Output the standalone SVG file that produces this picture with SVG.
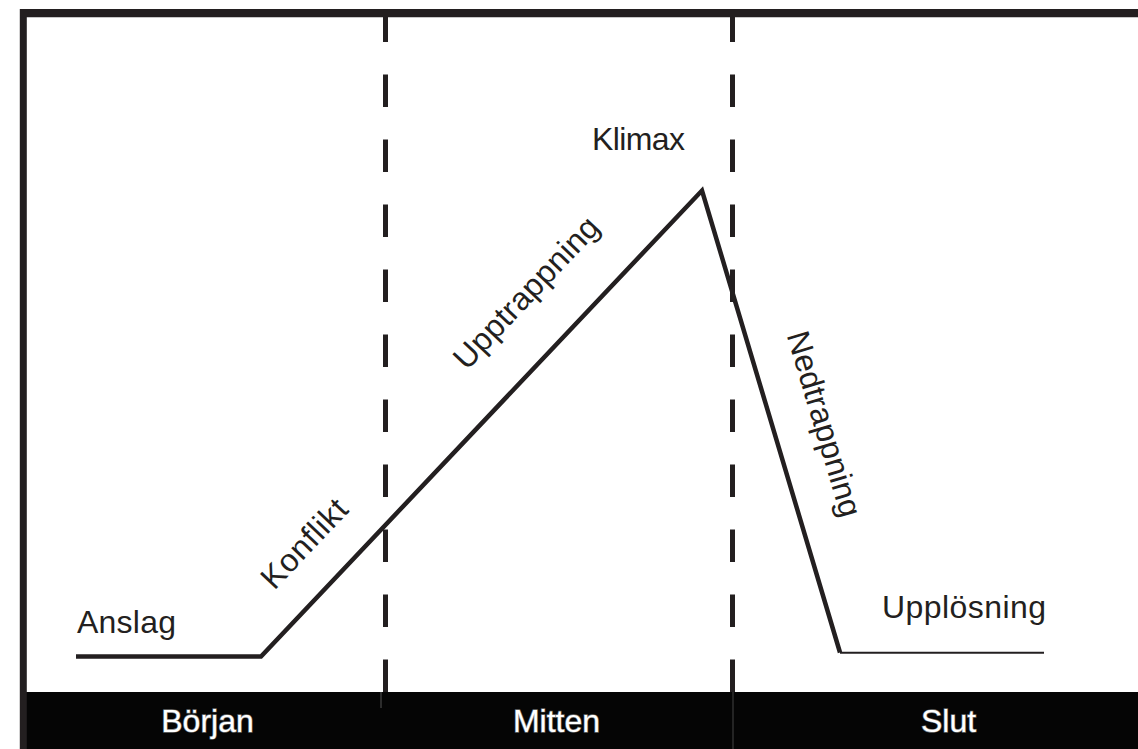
<svg xmlns="http://www.w3.org/2000/svg" width="1138" height="749" viewBox="0 0 1138 749">
  <style>
    .lbl { font-family: "Liberation Sans", Arial, sans-serif; font-size: 32px; fill: #231f20; }
    .band { font-family: "Liberation Sans", Arial, sans-serif; font-size: 32px; fill: #ffffff; stroke: #6a6a6a; stroke-width: 1.4px; paint-order: stroke; text-anchor: middle; }
    .frame { stroke: #231f20; fill: none; }
    .dash { stroke: #231f20; stroke-width: 5; stroke-dasharray: 32.5 32.5; fill: none; }
    .curve { stroke: #231f20; stroke-width: 4.5; fill: none; stroke-linejoin: miter; stroke-miterlimit: 20; }
  </style>
  <rect x="0" y="0" width="1138" height="749" fill="#ffffff"/>

  <g id="frame">
    <rect x="20" y="692" width="1118" height="57" fill="#050505"/>
    <line class="frame" x1="23.3" y1="9" x2="23.3" y2="749" stroke-width="7"/>
    <line class="frame" x1="20" y1="13.2" x2="1138" y2="13.2" stroke-width="8.3"/>
    <line x1="381" y1="692" x2="381" y2="708" stroke="#3a3a3a" stroke-width="1.5"/>
    <line x1="733" y1="692" x2="733" y2="749" stroke="#3a3a3a" stroke-width="1.2"/>
  </g>

  <g id="connectors">
    <line class="dash" x1="385.5" y1="9.5" x2="385.5" y2="692"/>
    <line class="dash" x1="732.5" y1="9.5" x2="732.5" y2="692"/>
    <polyline class="curve" points="76,656.5 261,656.5 702,190.5 840,652.5"/>
    <line x1="840" y1="652.8" x2="1044" y2="652.8" stroke="#231f20" stroke-width="2"/>
  </g>

  <g id="node-anslag"><text class="lbl" x="77" y="633" textLength="99">Anslag</text></g>
  <g id="node-konflikt"><text class="lbl" text-anchor="middle" textLength="110" transform="translate(312,551) rotate(-46.6)">Konflikt</text></g>
  <g id="node-upptrappning"><text class="lbl" text-anchor="middle" textLength="196" transform="translate(534,300) rotate(-46.6)">Upptrappning</text></g>
  <g id="node-klimax"><text class="lbl" x="638.5" y="150" text-anchor="middle" textLength="93">Klimax</text></g>
  <g id="node-nedtrappning"><text class="lbl" text-anchor="middle" textLength="192" transform="translate(814,427) rotate(73.4)">Nedtrappning</text></g>
  <g id="node-upplosning"><text class="lbl" x="882" y="618" textLength="164">Upplösning</text></g>

  <g id="node-borjan"><text class="band" x="207.5" y="732">Början</text></g>
  <g id="node-mitten"><text class="band" x="556.5" y="732">Mitten</text></g>
  <g id="node-slut"><text class="band" x="948.5" y="732">Slut</text></g>
</svg>
